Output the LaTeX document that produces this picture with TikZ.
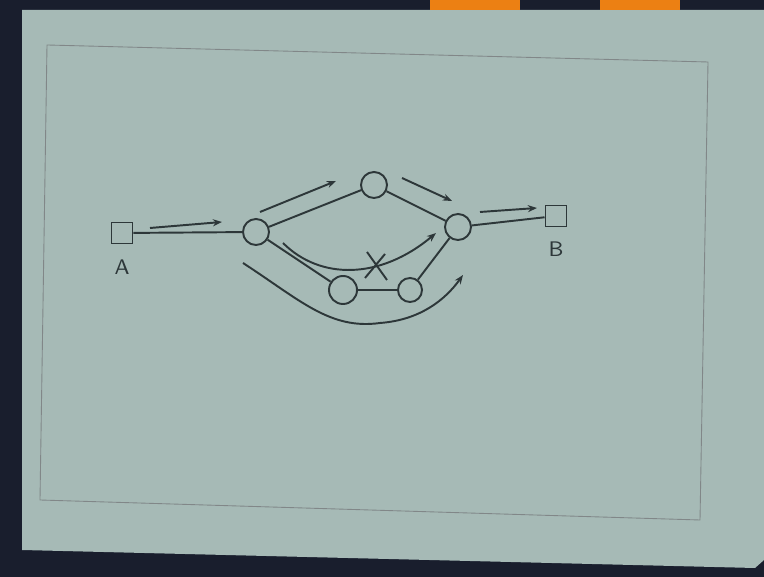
\documentclass[tikz,border=0pt]{standalone}
\usepackage{xcolor}
\usepackage{tikz}
\usetikzlibrary{arrows.meta}

\definecolor{paper}{RGB}{166,186,182}
\definecolor{ink}{RGB}{45,55,57}
\definecolor{edge}{RGB}{25,30,45}

\tikzset{
  router/.style={draw=ink, line width=0.55pt, circle, minimum size=0.26cm, inner sep=0pt},
  host/.style={draw=ink, line width=0.55pt, minimum size=0.21cm, inner sep=0pt},
  link/.style={draw=ink, line width=0.55pt},
  flow/.style={draw=ink, line width=0.55pt, -{Stealth[length=2.6pt,width=2pt]}}
}

\begin{document}
\begin{tikzpicture}[x=0.01cm, y=-0.01cm]

    % photo background
    \fill[edge] (0,0) rectangle (764,577);
    \fill[paper] (22,10) -- (764,10) -- (764,560) -- (755,568) -- (22,550) -- cycle;
    \fill[orange!70!brown] (430,0) rectangle (520,10);
    \fill[orange!70!brown] (600,0) rectangle (680,10);
    \draw[ink!60, line width=0.25pt] (47,45) -- (708,62) -- (700,520) -- (40,500) -- cycle;

    % hosts and routers
    \node[host] (hostA) at (122,233) {};
    \node[host] (hostB) at (556,216) {};
    \node[font=\sffamily\fontsize{6}{7}\selectfont, text=ink] (labA) at (122,267) {A};
    \node[font=\sffamily\fontsize{6}{7}\selectfont, text=ink] (labB) at (556,249) {B};

    \node[router] (r1) at (256,232) {};
    \node[router] (r2) at (374,185) {};
    \node[router] (r3) at (458,227) {};
    \node[router, minimum size=0.28cm] (r4) at (343,290) {};
    \node[router, minimum size=0.24cm] (r5) at (410,290) {};

    % links
    \draw[link] (hostA) -- (r1);
    \draw[link] (r1) -- (r2);
    \draw[link] (r2) -- (r3);
    \draw[link] (r3) -- (hostB);
    \draw[link] (r1) -- (r4);
    \draw[link] (r4) -- (r5);
    \draw[link] (r5) -- (r3);

    % traffic arrows
    \coordinate (f1s) at (150,228);
    \coordinate (f1e) at (222,222);
    \coordinate (f2s) at (260,212);
    \coordinate (f2e) at (336,181);
    \coordinate (f3s) at (402,178);
    \coordinate (f3e) at (452,201);
    \coordinate (f4s) at (480,212);
    \coordinate (f4e) at (537,208);
    \draw[flow] (f1s) -- (f1e);
    \draw[flow] (f2s) -- (f2e);
    \draw[flow] (f3s) -- (f3e);
    \draw[flow] (f4s) -- (f4e);

    % blocked path and detour
    \coordinate (b1s) at (283,243);
    \coordinate (b1e) at (436,233);
    \draw[flow] (b1s) .. controls (320,280) and (380,280) .. (b1e);
    \coordinate (xm) at (377,266);
    \draw[link] ([shift={(-10,-14)}]xm) -- ([shift={(10,14)}]xm);
    \draw[link] ([shift={(-12,12)}]xm) -- ([shift={(8,-12)}]xm);

    \coordinate (d1s) at (243,263);
    \coordinate (d1e) at (463,275);
    \draw[flow] (d1s) .. controls (300,300) and (330,330) .. (380,323)
                      .. controls (420,320) and (445,300) .. (d1e);

\end{tikzpicture}
\end{document}
